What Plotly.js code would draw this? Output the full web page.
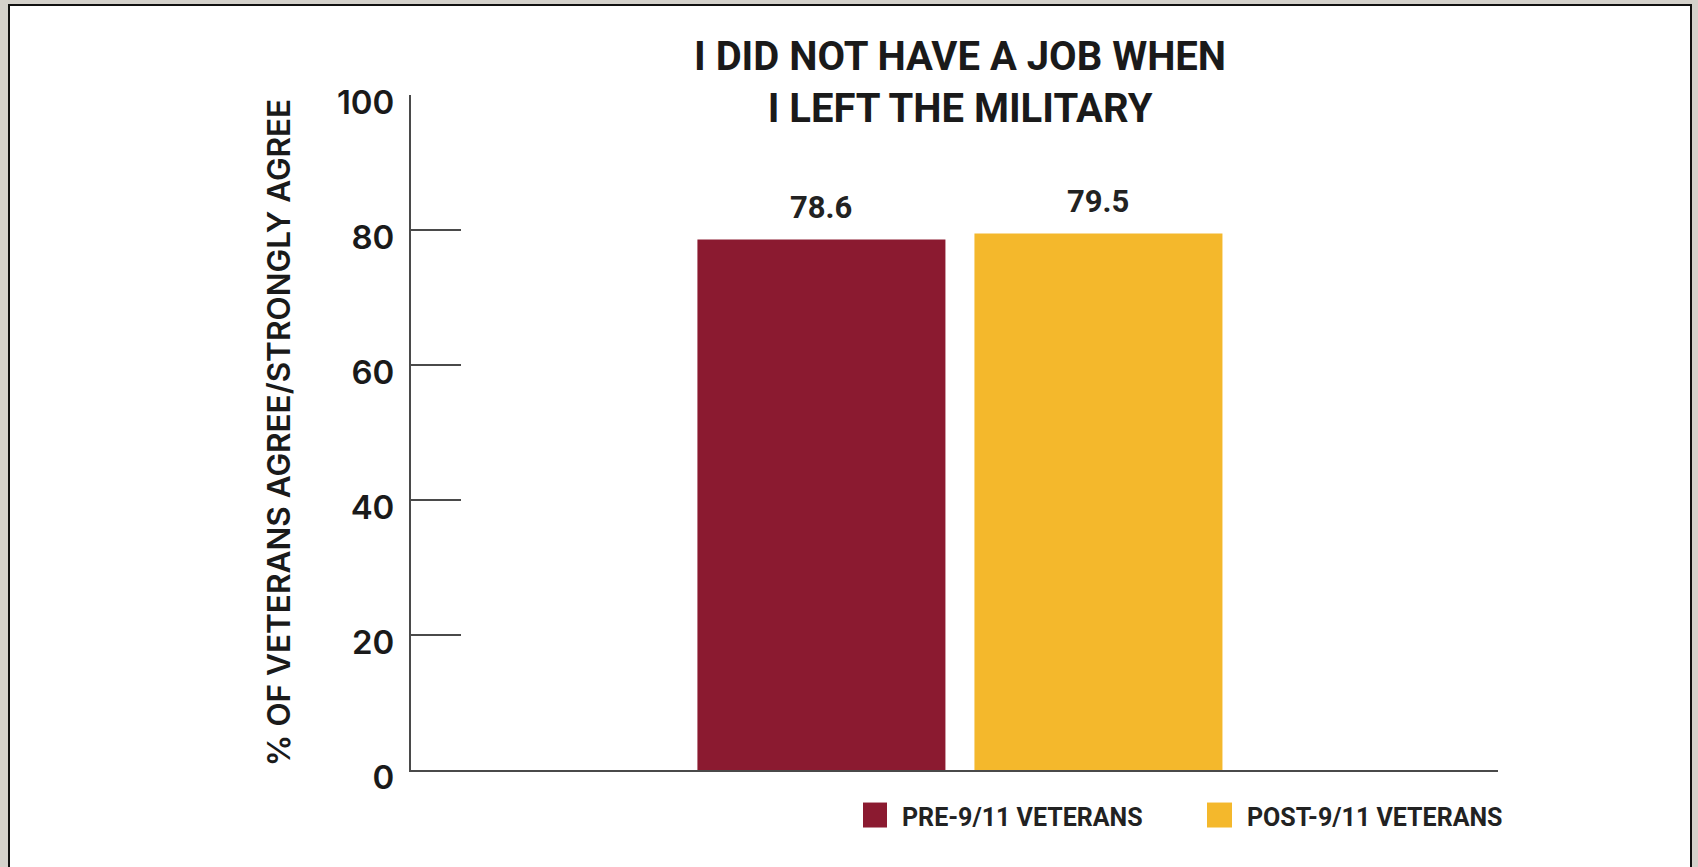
<!DOCTYPE html>
<html><head><meta charset="utf-8">
<script src="https://cdn.plot.ly/plotly-3.0.1.min.js"></script>
<style>
html,body{margin:0;padding:0;background:#d4d1cb;width:1698px;height:867px;overflow:hidden;}
#frame{position:absolute;left:8px;top:4px;width:1680px;height:900px;border:2px solid #111;background:#fff;}
#chart{position:absolute;left:0;top:0;width:1698px;height:867px;}
</style></head><body>
<div id="frame"></div><div id="chart"></div>
<script>
// ---- data ----
const categories = ['I did not have a job when I left the military'];
const seriesNames = ['PRE-9/11 VETERANS', 'POST-9/11 VETERANS'];
const preValues = [78.6];
const postValues = [79.5];
const seriesColors = ['#8b1a30', '#f4b82c'];
const tickValues = [0, 20, 40, 60, 80, 100];
const tickLabels = ['0', '20', '40', '60', '80', '100'];
const chartTitle = 'I DID NOT HAVE A JOB WHEN<br>I LEFT THE MILITARY';
const yTitle = '% OF VETERANS AGREE/STRONGLY AGREE';

const seriesValues = [preValues, postValues];

const traces = seriesValues.map((vals, i) => ({
  type: 'bar',
  x: categories,
  y: vals,
  name: seriesNames[i],
  marker: {color: seriesColors[i], line: {width: 0}},
  hoverinfo: 'skip',
  showlegend: false
}));

const labelFont = {family: 'Roboto, Arial, sans-serif', size: 31, weight: 700, color: '#222'};
const legendFont = {family: 'Roboto, Arial, sans-serif', size: 25, weight: 700, color: '#222'};

const annotations = [];
seriesValues.forEach((vals, i) => {
  vals.forEach((v, j) => {
    annotations.push({
      x: categories[j], y: v, xref: 'x', yref: 'y',
      text: v.toFixed(1), showarrow: false,
      xshift: i === 0 ? -138.5 : 138.5, yshift: 32,
      xanchor: 'center', yanchor: 'middle', font: labelFont
    });
  });
});

// legend (custom, sized like the reference)
const legendSquareX = [[0.4158, 0.4379], [0.7323, 0.7553]];
const legendTextX = [0.4499, 0.7672];
const shapes = [];
seriesNames.forEach((n, i) => {
  shapes.push({type: 'rect', xref: 'paper', yref: 'paper',
    x0: legendSquareX[i][0], x1: legendSquareX[i][1], y0: -0.0482, y1: -0.0852,
    fillcolor: seriesColors[i], line: {width: 0}});
  annotations.push({xref: 'paper', yref: 'paper', x: legendTextX[i], y: -0.0704,
    xanchor: 'left', yanchor: 'middle', text: n, showarrow: false, font: legendFont});
});

const layout = {
  width: 1698, height: 867,
  paper_bgcolor: 'rgba(0,0,0,0)', plot_bgcolor: 'rgba(0,0,0,0)',
  margin: {l: 411, r: 200, t: 95, b: 97, pad: 0},
  barmode: 'group', bargap: 0.4903, bargroupgap: 0.1047,
  title: {
    text: chartTitle,
    font: {family: 'Roboto, Arial, sans-serif', size: 40, weight: 700, color: '#1a1a1a'},
    x: 0.5654, xref: 'container', xanchor: 'center',
    y: 1 - 70 / 867, yref: 'container', yanchor: 'top'
  },
  xaxis: {
    type: 'category', range: [-0.505, 0.495],
    showline: true, linecolor: '#4a4a4a', linewidth: 2,
    ticks: '', showticklabels: false, showgrid: false, zeroline: false, fixedrange: true
  },
  yaxis: {
    range: [0, 100], tickmode: 'array', tickvals: tickValues, ticktext: tickLabels,
    ticks: 'inside', ticklen: 50, tickwidth: 2, tickcolor: '#4a4a4a',
    showline: true, linecolor: '#4a4a4a', linewidth: 2,
    showgrid: false, zeroline: false, fixedrange: true,
    ticklabelstandoff: 8, ticklabelshift: 7,
    tickfont: {family: 'Inter, "DejaVu Sans", Arial, sans-serif', size: 33, weight: 600, color: '#1a1a1a'},
    title: {
      text: yTitle, standoff: 37,
      font: {family: 'Inter, "DejaVu Sans", Arial, sans-serif', size: 31.5, weight: 600, color: '#1a1a1a'}
    }
  },
  annotations: annotations,
  shapes: shapes,
  showlegend: false
};

Plotly.newPlot('chart', traces, layout, {displayModeBar: false, staticPlot: true});
</script></body></html>
